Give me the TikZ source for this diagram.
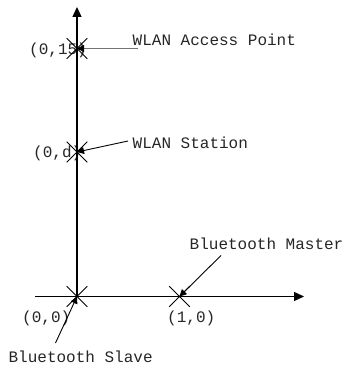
\documentclass[tikz,border=0pt]{standalone}
\usepackage{fontspec}
\setmonofont{Liberation Mono}
\usetikzlibrary{arrows.meta,shapes.misc}
\begin{document}
\begin{tikzpicture}[x=1pt,y=-1pt,
  lbl/.style={font=\ttfamily\fontsize{16}{16}\selectfont, text=black!85, inner sep=0pt, anchor=base west},
  axisline/.style={line width=1.3pt, -{Triangle[length=10pt,width=9pt]}},
  ptr/.style={line width=0.9pt, -{Triangle[length=7pt,width=7pt,black]}},
  xmark/.style={draw, cross out, line width=0.8pt, minimum size=20.6pt, inner sep=0pt, outer sep=0pt}]
\useasboundingbox (0,0) rectangle (344,371);
% labels
\node[lbl] (tAP) at (132.5,45.7) {WLAN Access Point};
\node[lbl] (tST) at (132.5,148.3) {WLAN Station};
\node[lbl] (tM) at (189.5,249) {Bluetooth Master};
\node[lbl] (t015) at (29,55) {(0,15)};
\node[lbl] (t0d) at (33,157.7) {(0,d)};
\node[lbl] (t00) at (22,322.5) {(0,0)};
\node[lbl] (t10) at (167,322.5) {(1,0)};
\node[lbl] (tS) at (8.4,362) {Bluetooth Slave};
% axes
\coordinate (O) at (77,296.5);
\coordinate (ytip) at (77,7);
\coordinate (xstart) at (35,296.5);
\coordinate (xtip) at (304,296.5);
\draw[axisline] (O) -- (ytip);
\draw[axisline] (xstart) -- (xtip);
% crosses
\node[xmark] (AP) at (77,48.5) {};
\node[xmark] (ST) at (77,152) {};
\node[xmark] (C0) at (O) {};
\node[xmark] (M) at (179.5,296.5) {};
% pointers
\coordinate (pAP) at (138,48.5);
\coordinate (pST) at (128,141);
\coordinate (pM) at (221,255.5);
\coordinate (pS) at (55.5,343);
\draw[ptr, draw=black!55] (pAP) -- (AP.center);
\draw[ptr] (pST) -- (ST.center);
\draw[ptr] (pM) -- (M.center);
\draw[ptr] (pS) -- (C0.center);
\end{tikzpicture}
\end{document}
